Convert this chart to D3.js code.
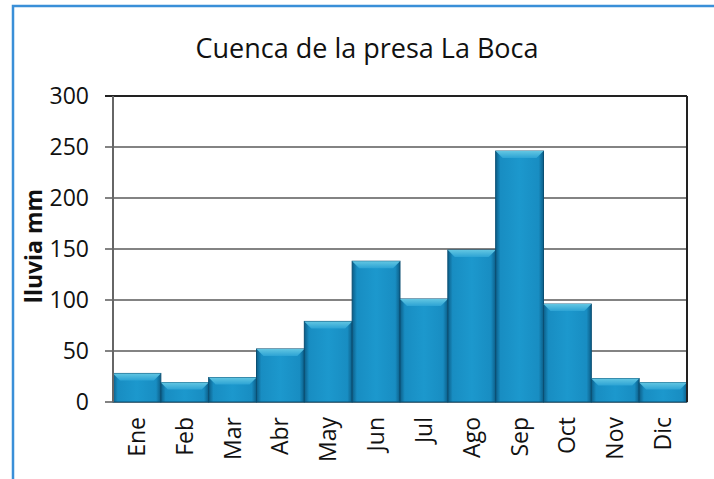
<!DOCTYPE html>
<html>
<head>
<meta charset="utf-8">
<script src="https://cdn.jsdelivr.net/npm/d3@7"></script>
<style>
  body { margin: 0; background: #fff; }
  svg { display: block; font-family: "Open Sans", "Noto Sans", sans-serif; }
</style>
</head>
<body>
<svg id="chart" width="714" height="479"></svg>
<script>
// data
let months = ["Ene", "Feb", "Mar", "Abr", "May", "Jun", "Jul", "Ago", "Sep", "Oct", "Nov", "Dic"];
let rain = [28, 19, 24, 52, 79, 138, 101, 149, 246, 96, 23, 19];
let yTicks = [0, 50, 100, 150, 200, 250, 300];

let svg = d3.select("#chart");
let margin = { left: 113, right: 27, top: 96, bottom: 77 };
let width = 714 - margin.left - margin.right;
let height = 479 - margin.top - margin.bottom;

// outer frame (blue, only top and left visible)
svg.append("path")
    .attr("d", "M13,479 L13,6 L714,6")
    .attr("fill", "none")
    .attr("stroke", "#3a8fd8")
    .attr("stroke-width", 2.5);

// title
svg.append("text")
    .attr("x", 367)
    .attr("y", 58)
    .attr("text-anchor", "middle")
    .attr("font-size", 27)
    .attr("fill", "#111")
    .text("Cuenca de la presa La Boca");

let x = d3.scaleBand().domain(months).range([0, width]).padding(0);
let y = d3.scaleLinear().domain([0, 300]).range([height, 0]);

let g = svg.append("g").attr("transform", `translate(${margin.left},${margin.top})`);

// gradient for bars
let defs = svg.append("defs");
let grad = defs.append("linearGradient").attr("id", "barGrad").attr("x1", 0).attr("x2", 1).attr("y1", 0).attr("y2", 0);
grad.append("stop").attr("offset", "0%").attr("stop-color", "#0c5e88");
grad.append("stop").attr("offset", "10%").attr("stop-color", "#188dc2");
grad.append("stop").attr("offset", "50%").attr("stop-color", "#1c98cd");
grad.append("stop").attr("offset", "90%").attr("stop-color", "#188dc2");
grad.append("stop").attr("offset", "100%").attr("stop-color", "#0c5e88");

let topGrad = defs.append("linearGradient").attr("id", "topGrad").attr("x1", 0).attr("x2", 0).attr("y1", 0).attr("y2", 1);
topGrad.append("stop").attr("offset", "0%").attr("stop-color", "#62c6e2");
topGrad.append("stop").attr("offset", "100%").attr("stop-color", "#2ca3d4");

// gridlines
g.selectAll(".grid")
    .data(yTicks)
    .enter()
    .append("line")
    .attr("class", "grid")
    .attr("x1", -8)
    .attr("x2", width)
    .attr("y1", d => y(d))
    .attr("y2", d => y(d))
    .attr("stroke", d => d == 300 ? "#222" : "#5a5a5a")
    .attr("stroke-width", d => d == 300 ? 2 : 1.6);

// y tick labels
g.selectAll(".ylab")
    .data(yTicks)
    .enter()
    .append("text")
    .attr("class", "ylab")
    .attr("x", -24)
    .attr("y", d => y(d))
    .attr("dy", "0.36em")
    .attr("text-anchor", "end")
    .attr("font-size", 23)
    .attr("fill", "#111")
    .text(d => d);

// bars
let bars = g.selectAll(".bar")
    .data(months.map((m, i) => ({ m: m, v: rain[i] })))
    .enter()
    .append("g")
    .attr("class", "bar");

bars.append("rect")
    .attr("x", d => x(d.m))
    .attr("y", d => y(d.v))
    .attr("width", x.bandwidth())
    .attr("height", d => height - y(d.v))
    .attr("fill", "url(#barGrad)")
    .attr("stroke", "#0a4f73")
    .attr("stroke-width", 1);

// top bevel
let bev = 7;
bars.append("path")
    .attr("d", d => {
        let x0 = x(d.m), x1 = x0 + x.bandwidth(), y0 = y(d.v);
        return `M${x0},${y0} L${x1},${y0} L${x1 - bev},${y0 + bev} L${x0 + bev},${y0 + bev} Z`;
    })
    .attr("fill", "url(#topGrad)");

// axes lines
g.append("line").attr("x1", 0).attr("x2", 0).attr("y1", 0).attr("y2", height)
    .attr("stroke", "#666").attr("stroke-width", 2);
g.append("line").attr("x1", width).attr("x2", width).attr("y1", 0).attr("y2", height)
    .attr("stroke", "#222").attr("stroke-width", 2);

// x labels
g.selectAll(".xlab")
    .data(months)
    .enter()
    .append("text")
    .attr("class", "xlab")
    .attr("transform", d => `translate(${x(d) + x.bandwidth() / 2 + 8},${height + 15}) rotate(-90)`)
    .attr("text-anchor", "end")
    .attr("font-size", 23)
    .attr("fill", "#111")
    .text(d => d);

// y axis title
svg.append("text")
    .attr("transform", "translate(42,246) rotate(-90)")
    .attr("text-anchor", "middle")
    .attr("font-size", 23)
    .attr("font-weight", "bold")
    .attr("fill", "#111")
    .text("lluvia mm");
</script>
</body>
</html>
